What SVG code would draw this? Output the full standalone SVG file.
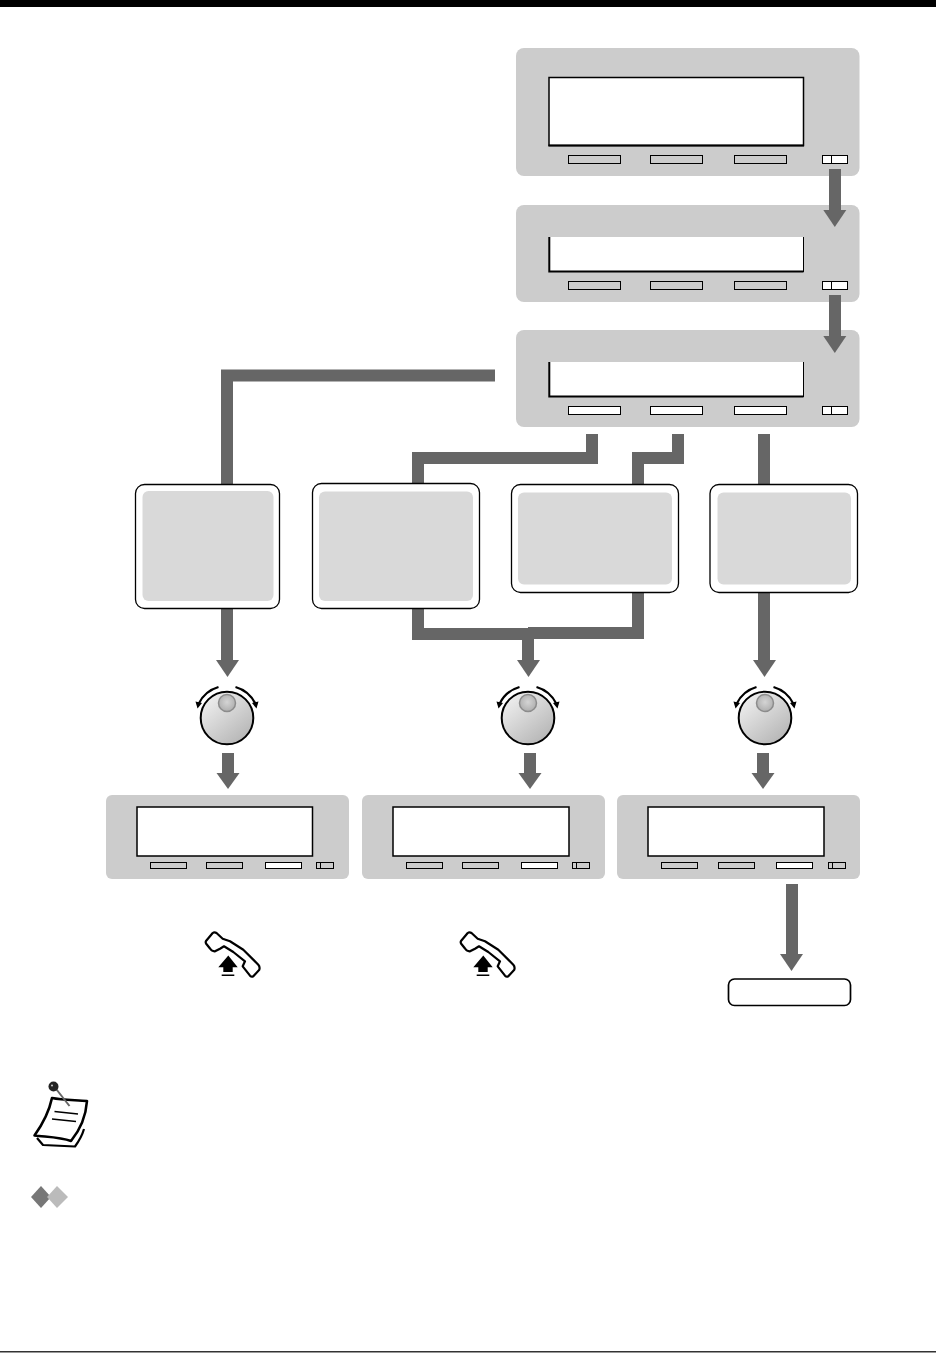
<svg xmlns="http://www.w3.org/2000/svg" width="936" height="1353" viewBox="0 0 936 1353">
<style>
.panel{fill:#ccc}
.screen{fill:#fff;stroke:#000;stroke-width:1.5}
.sb{stroke:#000;stroke-width:1;fill:#ccc}
.sw{stroke:#000;stroke-width:1;fill:#fff}
.pipe{fill:none;stroke:#666;stroke-width:12}
.head{fill:#666}
.box{fill:#fff;stroke:#000;stroke-width:1.3}
.inner{fill:#d9d9d9}
.hs{fill:#fff;stroke:#000;stroke-width:2.2;stroke-linejoin:round}
.arc{fill:none;stroke:#000;stroke-width:2.3}
.edge{fill:none;stroke:#000}
</style>
<defs>
<linearGradient id="kg" x1="0.15" y1="0.1" x2="0.85" y2="0.95"><stop offset="0" stop-color="#eee"/><stop offset="1" stop-color="#b4b4b4"/></linearGradient>
<radialGradient id="kc" cx="0.5" cy="0.45" r="0.6"><stop offset="0" stop-color="#d4d4d4"/><stop offset="1" stop-color="#ababab"/></radialGradient>
<g id="knob">
<circle cx="0" cy="0" r="26.300" fill="url(#kg)" stroke="#000" stroke-width="2"/>
<circle cx="0" cy="-15" r="8.500" fill="url(#kc)" stroke="#8c8c8c" stroke-width="1.500"/>
<path class="arc" d="M-8.500-31A32 32 0 0 0-28.500-14"/>
<path class="arc" d="M8.500-31A32 32 0 0 1 28.500-14"/>
<path d="M-31.500-16.500l6.500 1.500-4.500 5.500z"/>
<path d="M31.500-16.500l-6.500 1.500 4.500 5.500z"/>
</g>
<g id="hook">
<path class="hs" d="M206 941L212.700 933C214 932 215 932 216.500 933L222.700 938.700L230 941.300L243.300 949.700L258.300 964.700C259.500 966 259.800 968 259.300 969.700L253.300 976.300C252 977 251 976.700 250 975.700L242.700 966.300L245 961.300L233.300 952L224 946.300L220 948.700L215 951.300C213 951.500 211 950 210 948.500L206 943.500C205.500 942.500 205.500 942 206 941z"/>
<path d="M228.300 955.500L218.300 967.300H223.300V972H232.700V967.300H237.700z" fill="#000"/>
<rect x="221.700" y="974.500" width="12.600" height="1.500" fill="#000"/>
</g>
</defs>

<rect x="0" y="0" width="936" height="7" fill="#000"/>
<rect x="0" y="1351" width="936" height="1.500" fill="#333"/>

<g id="panel-1">
<rect class="panel" x="516" y="48" width="343.500" height="128" rx="8"/>
<rect class="screen" x="549" y="77.500" width="254.500" height="68"/>
<rect x="548.500" y="144.500" width="255.500" height="2" fill="#000"/>
<rect class="sb" x="568.500" y="155.500" width="52" height="8"/>
<rect class="sb" x="650.500" y="155.500" width="52" height="8"/>
<rect class="sb" x="734.500" y="155.500" width="52" height="8"/>
<rect class="sw" x="822.500" y="155.500" width="25" height="8"/>
<path class="edge" d="M831.500 155.500v8"/>
</g>
<g id="panel-2">
<rect class="panel" x="516" y="205" width="343.500" height="97" rx="8"/>
<rect x="549" y="237" width="254.500" height="34.500" fill="#fff"/>
<path class="edge" stroke-width="2" d="M549.300 237V271.500H803.500"/>
<path class="edge" d="M803.500 237V272"/>
<rect class="sb" x="568.500" y="281.500" width="52" height="8"/>
<rect class="sb" x="650.500" y="281.500" width="52" height="8"/>
<rect class="sb" x="734.500" y="281.500" width="52" height="8"/>
<rect class="sw" x="822.500" y="281.500" width="25" height="8"/>
<path class="edge" d="M831.500 281.500v8"/>
</g>
<g id="panel-3">
<rect class="panel" x="516" y="330" width="343.500" height="97" rx="8"/>
<rect x="549" y="362" width="254.500" height="34.500" fill="#fff"/>
<path class="edge" stroke-width="2" d="M549.300 362V396.500H803.500"/>
<path class="edge" d="M803.500 362V397"/>
<rect class="sw" x="568.500" y="406.500" width="52" height="8"/>
<rect class="sw" x="650.500" y="406.500" width="52" height="8"/>
<rect class="sw" x="734.500" y="406.500" width="52" height="8"/>
<rect class="sw" x="822.500" y="406.500" width="25" height="8"/>
<path class="edge" d="M831.500 406.500v8"/>
</g>

<g id="connectors">
<path class="pipe" d="M835 169V212"/><path class="head" d="M823.300 210h23l-11.500 17z"/>
<path class="pipe" d="M835 295V338"/><path class="head" d="M823.300 336h23l-11.500 17z"/>
<path class="pipe" d="M495 375.500H227V486"/>
<path class="pipe" d="M592 434V458H418V486"/>
<path class="pipe" d="M678 434V458H638V486"/>
<path class="pipe" d="M764 434V486"/>
<path class="pipe" d="M227 606V662"/><path class="head" d="M216 660h23l-11.500 17z"/>
<path class="pipe" d="M418 606V634H528"/>
<path class="pipe" d="M638 590V633H528"/>
<path class="pipe" d="M528 633V662"/><path class="head" d="M517 660h23l-11.500 17z"/>
<path class="pipe" d="M764 590V662"/><path class="head" d="M753 660h23l-11.500 17z"/>
<path class="pipe" d="M228 753V776"/><path class="head" d="M216.500 773h23l-11.500 16z"/>
<path class="pipe" d="M530 753V776"/><path class="head" d="M518.500 773h23l-11.500 16z"/>
<path class="pipe" d="M763 753V776"/><path class="head" d="M751.500 773h23l-11.500 16z"/>
<path class="pipe" d="M792 884V956"/><path class="head" d="M780 954h23l-11.500 17z"/>
</g>

<g id="box-1"><rect class="box" x="135.500" y="484.500" width="144" height="124" rx="9"/><rect class="inner" x="142.500" y="491" width="131" height="110" rx="6"/></g>
<g id="box-2"><rect class="box" x="312.500" y="483.500" width="167" height="125" rx="9"/><rect class="inner" x="319" y="491.500" width="154" height="109.500" rx="6"/></g>
<g id="box-3"><rect class="box" x="511.500" y="484.500" width="167" height="108" rx="9"/><rect class="inner" x="518" y="492.500" width="154" height="92" rx="6"/></g>
<g id="box-4"><rect class="box" x="710" y="484.500" width="147.500" height="108" rx="9"/><rect class="inner" x="717.500" y="492.500" width="133.500" height="92" rx="6"/></g>

<g id="knob-1"><use href="#knob" x="227" y="718"/></g>
<g id="knob-2"><use href="#knob" x="528" y="718"/></g>
<g id="knob-3"><use href="#knob" x="765" y="718"/></g>

<g id="panel-4">
<rect class="panel" x="106" y="795" width="243" height="84" rx="6"/>
<rect class="screen" x="137" y="807" width="175.500" height="49" stroke-width="2"/>
<rect class="sb" x="150.500" y="862.500" width="36" height="6"/>
<rect class="sb" x="206.500" y="862.500" width="36" height="6"/>
<rect class="sw" x="265.500" y="862.500" width="36" height="6"/>
<rect class="sb" x="316.500" y="862.500" width="17" height="6"/>
<path class="edge" d="M320.500 862.500v6"/>
</g>
<g id="panel-5">
<rect class="panel" x="362" y="795" width="243" height="84" rx="6"/>
<rect class="screen" x="393" y="807" width="176" height="49" stroke-width="2"/>
<rect class="sb" x="406.500" y="862.500" width="36" height="6"/>
<rect class="sb" x="462.500" y="862.500" width="36" height="6"/>
<rect class="sw" x="521.500" y="862.500" width="36" height="6"/>
<rect class="sb" x="572.500" y="862.500" width="17" height="6"/>
<path class="edge" d="M576.500 862.500v6"/>
</g>
<g id="panel-6">
<rect class="panel" x="617" y="795" width="243" height="84" rx="6"/>
<rect class="screen" x="648" y="807" width="176" height="49" stroke-width="2"/>
<rect class="sb" x="661.500" y="862.500" width="36" height="6"/>
<rect class="sb" x="718.500" y="862.500" width="36" height="6"/>
<rect class="sw" x="776.500" y="862.500" width="36" height="6"/>
<rect class="sb" x="828.500" y="862.500" width="17" height="6"/>
<path class="edge" d="M832.500 862.500v6"/>
</g>

<g id="hook-1"><use href="#hook"/></g>
<g id="hook-2"><use href="#hook" x="255"/></g>
<g id="end-box"><rect x="728.500" y="979" width="122" height="26.500" rx="6" fill="#fff" stroke="#000" stroke-width="1.700"/></g>

<g id="note-icon">
<path d="M37 1138L43 1145L75 1146.500C79 1141 82 1136 84 1129" fill="#fff" stroke="#000" stroke-width="2.200" stroke-linejoin="round"/>
<path d="M52 1098C62 1100 76 1100 87 1101C86 1115 80 1130 71 1141C60 1137 46 1137 34.500 1135.500C42 1125 49 1112 52 1098z" fill="#fff" stroke="#000" stroke-width="2.600" stroke-linejoin="round"/>
<path d="M54.500 1111.500L78 1114M52 1119L76 1121.500" stroke="#000" stroke-width="1.500" fill="none"/>
<path d="M56.500 1089.500L69.500 1106" stroke="#666" stroke-width="2" fill="none"/>
<circle cx="53.500" cy="1086.500" r="5" fill="#222"/>
<circle cx="52" cy="1085.500" r="1" fill="#ccc"/>
</g>
<g id="diamonds">
<path d="M41 1186l10 11-10 11-10-11z" fill="#777"/>
<path d="M57 1186l11 11-11 11-10-11z" fill="#bbb"/>
</g>
</svg>
